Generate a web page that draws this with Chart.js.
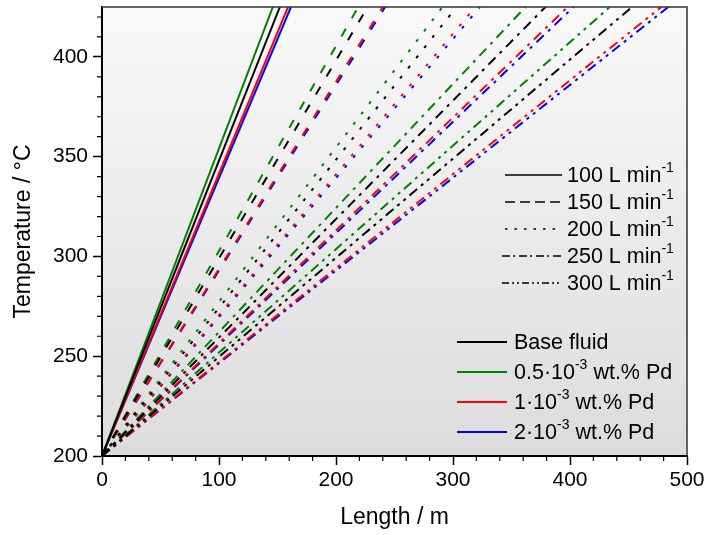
<!DOCTYPE html>
<html>
<head>
<meta charset="utf-8">
<script src="https://cdn.jsdelivr.net/npm/chart.js@4.4.1/dist/chart.umd.min.js"></script>
<style>
  html, body { margin: 0; padding: 0; background: #fff; }
  #wrap { width: 706px; height: 535px; }
</style>
</head>
<body>
<div id="wrap"><canvas id="tempChart" width="706" height="535"></canvas></div>
<script>
// Flow rates (L min-1) and fluids
const flowRates = ['100', '150', '200', '250', '300'];
const fluidNames = ['Base fluid', '0.5·10-3 wt.% Pd', '1·10-3 wt.% Pd', '2·10-3 wt.% Pd'];

// Every line starts at the inlet and rises to the top of the axis
const startLength = 0;
const startTemp = 200;
const endTemp = 425;

// Length (m) where each line reaches 425 °C, one value per flow rate
const baseLen = [152, 227, 303, 379, 453];
const pd05Len = [146, 219, 291, 362, 434];
const pd1Len = [159, 240, 319, 398, 478];
const pd2Len = [161.5, 242, 323, 403, 484];

// Axis ticks
const xMajorTicks = [0, 100, 200, 300, 400, 500];
const yMajorTicks = [200, 250, 300, 350, 400];

const FONT = "'Liberation Sans', Arial, sans-serif";
const fluidColors = ['#000000', '#008000', '#ff0000', '#0000ff'];
const plotDash = [[], [9, 12], [3, 10], [10, 6, 3, 6], [10, 5, 3, 5, 3, 5]];
const legendDash = [[], [10, 5], [2.5, 7], [8, 3, 2, 4], [7, 3, 2, 3, 2, 3]];

const lengthsByFluid = [baseLen, pd05Len, pd1Len, pd2Len];

const datasets = [];
lengthsByFluid.forEach(function (lens, f) {
    flowRates.forEach(function (q, i) {
        datasets.push({
            label: fluidNames[f] + ' ' + q,
            data: [
                { x: startLength, y: startTemp },
                { x: lens[i], y: endTemp },
            ],
            borderColor: fluidColors[f],
            borderWidth: 2,
            borderDash: plotDash[i],
            borderCapStyle: 'butt',
            pointRadius: 0,
            fill: false,
            tension: 0,
        });
    });
});

// Paints the white page and the grey gradient behind the plot
const backgroundPlugin = {
    id: 'background',
    beforeDraw: function (chart) {
        const ctx = chart.ctx;
        const a = chart.chartArea;
        ctx.save();
        ctx.fillStyle = '#ffffff';
        ctx.fillRect(0, 0, chart.width, chart.height);
        const g = ctx.createLinearGradient(0, a.top, 0, a.bottom);
        g.addColorStop(0, '#f9f9f9');
        g.addColorStop(1, '#dcdcdc');
        ctx.fillStyle = g;
        ctx.fillRect(a.left, a.top, a.right - a.left, a.bottom - a.top);
        ctx.restore();
    },
};

// Minor ticks, top/right frame and both legends
const decorPlugin = {
    id: 'decor',
    afterDraw: function (chart) {
        const ctx = chart.ctx;
        const a = chart.chartArea;
        const xs = chart.scales.x;
        const ys = chart.scales.y;
        ctx.save();

        // frame on top and right
        ctx.strokeStyle = '#333';
        ctx.lineWidth = 1.5;
        ctx.beginPath();
        ctx.moveTo(a.left, a.top);
        ctx.lineTo(a.right, a.top);
        ctx.lineTo(a.right, a.bottom);
        ctx.stroke();

        // minor ticks
        ctx.strokeStyle = '#000';
        ctx.lineWidth = 1.2;
        ctx.beginPath();
        for (let v = 20; v < 500; v += 20) {
            if (v % 100 === 0) continue;
            const px = xs.getPixelForValue(v);
            ctx.moveTo(px, a.bottom);
            ctx.lineTo(px, a.bottom + 5);
        }
        for (let v = 210; v <= 420; v += 10) {
            if (v % 50 === 0) continue;
            const py = ys.getPixelForValue(v);
            ctx.moveTo(a.left, py);
            ctx.lineTo(a.left - 5, py);
        }
        ctx.stroke();

        // legend: flow rates
        ctx.textBaseline = 'middle';
        ctx.textAlign = 'left';
        ctx.fillStyle = '#000';
        const rowsQ = [175, 202, 229, 256, 283];
        flowRates.forEach(function (q, i) {
            const y = rowsQ[i];
            ctx.strokeStyle = '#000';
            ctx.lineWidth = 1.6;
            ctx.setLineDash(legendDash[i]);
            ctx.beginPath();
            ctx.moveTo(i >= 3 ? 502 : 505, y);
            ctx.lineTo(i === 2 ? 557 : 562, y);
            ctx.stroke();
            ctx.setLineDash([]);
            ctx.font = '21.5px ' + FONT;
            const t = q + ' L min';
            ctx.fillText(t, 567, y + 1);
            const w = ctx.measureText(t).width;
            ctx.font = '14px ' + FONT;
            ctx.fillText('-1', 567 + w, y - 7);
        });

        // legend: fluids
        const rowsF = [342, 372, 402, 432];
        const parts = [
            [['Base fluid', 0]],
            [['0.5·10', 0], ['-3', 1], [' wt.% Pd', 0]],
            [['1·10', 0], ['-3', 1], [' wt.% Pd', 0]],
            [['2·10', 0], ['-3', 1], [' wt.% Pd', 0]],
        ];
        fluidNames.forEach(function (name, f) {
            const y = rowsF[f];
            ctx.strokeStyle = fluidColors[f];
            ctx.lineWidth = 2;
            ctx.beginPath();
            ctx.moveTo(457, y);
            ctx.lineTo(507, y);
            ctx.stroke();
            let x = 514;
            parts[f].forEach(function (p) {
                ctx.font = (p[1] ? '14px ' : '21.5px ') + FONT;
                ctx.fillText(p[0], x, p[1] ? y - 7 : y + 1);
                x += ctx.measureText(p[0]).width;
            });
        });

        ctx.restore();
    },
};

new Chart(document.getElementById('tempChart'), {
    type: 'line',
    data: { datasets: datasets },
    options: {
        responsive: false,
        animation: false,
        layout: { padding: { left: 0, right: 19, top: 7, bottom: 0 } },
        plugins: {
            legend: { display: false },
            tooltip: { enabled: false },
        },
        scales: {
            x: {
                type: 'linear',
                min: 0,
                max: 500,
                afterBuildTicks: function (scale) {
                    scale.ticks = xMajorTicks.map(function (v) { return { value: v }; });
                },
                afterFit: function (scale) {
                    scale.height = 79;
                    scale.paddingLeft = 0;
                    scale.paddingRight = 0;
                },
                grid: { drawOnChartArea: false, tickLength: 9, tickColor: '#000', tickWidth: 1.5 },
                border: { color: '#000', width: 2 },
                ticks: { color: '#000', font: { family: FONT, size: 21 }, padding: 3, maxRotation: 0 },
                title: {
                    display: true,
                    text: 'Length / m',
                    color: '#000',
                    font: { family: FONT, size: 23 },
                    padding: { top: 6 },
                },
            },
            y: {
                type: 'linear',
                min: 200,
                max: 425,
                afterBuildTicks: function (scale) {
                    scale.ticks = yMajorTicks.map(function (v) { return { value: v }; });
                },
                afterFit: function (scale) {
                    scale.width = 102;
                    scale.paddingTop = 0;
                    scale.paddingBottom = 0;
                },
                grid: { drawOnChartArea: false, tickLength: 9, tickColor: '#000', tickWidth: 1.5 },
                border: { color: '#000', width: 2 },
                ticks: { color: '#000', font: { family: FONT, size: 21 }, padding: 5 },
                title: {
                    display: true,
                    text: 'Temperature / °C',
                    color: '#000',
                    font: { family: FONT, size: 23 },
                    padding: { top: 10, bottom: 0 },
                },
            },
        },
    },
    plugins: [backgroundPlugin, decorPlugin],
});
</script>
</body>
</html>
